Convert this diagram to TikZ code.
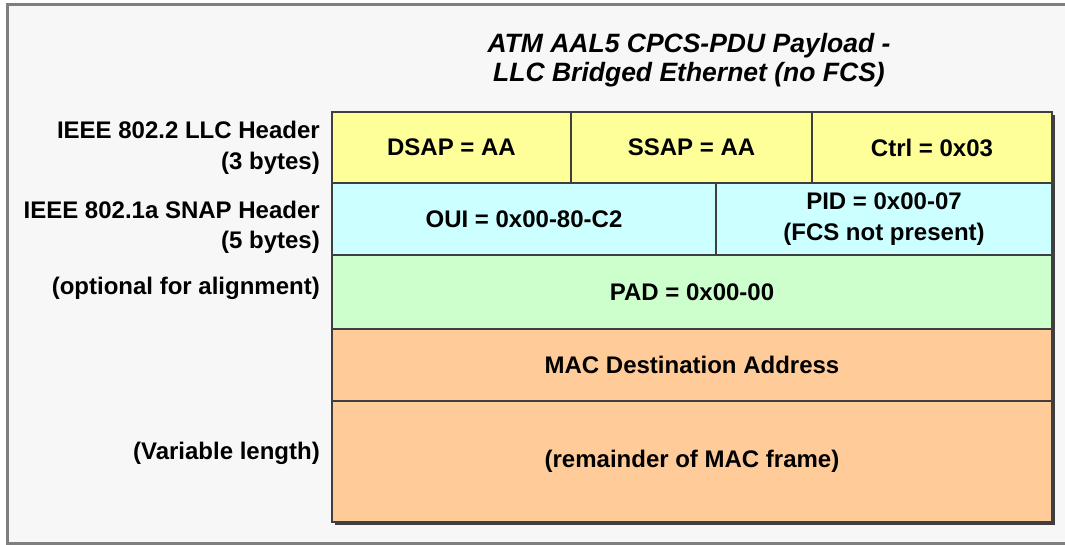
\documentclass[tikz,border=0pt]{standalone}
\usepackage{fontspec}
\setmainfont{Liberation Sans}
\usetikzlibrary{positioning}
\definecolor{cyellow}{HTML}{FFFF99}
\definecolor{ccyan}{HTML}{CCFFFF}
\definecolor{cgreen}{HTML}{CCFFCC}
\definecolor{corange}{HTML}{FFCC99}
\definecolor{cline}{HTML}{3F3F3F}
\definecolor{cframe}{HTML}{7F7F7F}
\definecolor{cback}{HTML}{F7F7F7}
\tikzset{
  every picture/.style={font=\bfseries\fontsize{24}{30.5}\selectfont},
  cell/.style={draw=cline, fill=#1, line width=1.6pt, anchor=north west, inner sep=0pt, outer sep=0pt, align=center},
  cell/.default=cyellow,
  lbl/.style={anchor=east, align=right, inner sep=0pt},
  title/.style={font=\bfseries\itshape\fontsize{26.5}{29}\selectfont, align=center},
}

\begin{document}
\begin{tikzpicture}[x=1pt, y=-1pt]
  \useasboundingbox (0,0) rectangle (1065,544);
  \clip (0,0) rectangle (1065,544);
  \fill[white] (0,0) rectangle (1065,544);
  \fill[cback] (7,4.5) rectangle (1100,543.5);
  \draw[cframe, line width=3pt] (1100,4.5) -- (7,4.5) -- (7,543.5) -- (1100,543.5);

  \node[title] (ttl) at (689,60) {ATM AAL5 CPCS-PDU Payload -\\LLC Bridged Ethernet (no FCS)};

  % shadow of the table
  \fill[cline] (335,115) rectangle (1054.5,524.5);

  % LLC header
  \node[cell=cyellow, minimum width=239pt, minimum height=71pt] (dsap) at (332,112) {DSAP = AA};
  \node[cell=cyellow, minimum width=241pt, minimum height=71pt] (ssap) at (571,112) {SSAP = AA};
  \node[cell=cyellow, minimum width=240pt, minimum height=71pt] (ctrl) at (812,112) {Ctrl = 0x03};

  % SNAP header
  \node[cell=ccyan, minimum width=384pt, minimum height=72pt] (oui) at (332,183) {OUI = 0x00-80-C2};
  \node[cell=ccyan, minimum width=336pt, minimum height=72pt] (pid) at (716,183) {PID = 0x00-07\\(FCS not present)};

  % pad and frame
  \node[cell=cgreen, minimum width=720pt, minimum height=74pt] (pad) at (332,255) {PAD = 0x00-00};
  \node[cell=corange, minimum width=720pt, minimum height=72pt] (mac) at (332,329) {MAC Destination Address};
  \node[cell=corange, minimum width=720pt, minimum height=121pt] (rest) at (332,401) {(remainder of MAC frame)};

  % labels on the left
  \node[lbl] (llc) at (320,148) {IEEE 802.2 LLC Header\\(3 bytes)};
  \node[lbl] (snap) at (320,227.5) {IEEE 802.1a SNAP Header\\(5 bytes)};
  \node[lbl] (opt) at (320,288) {(optional for alignment)};
  \node[lbl] (var) at (320,453) {(Variable length)};
\end{tikzpicture}
\end{document}
